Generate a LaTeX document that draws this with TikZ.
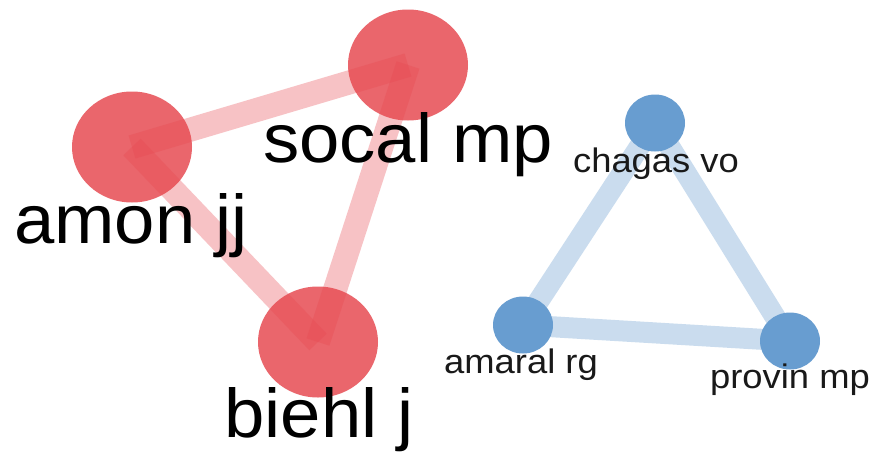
\documentclass[tikz,border=0pt]{standalone}
\usepackage{fontspec}
\setmainfont{Liberation Sans}
\usetikzlibrary{shapes.geometric}
\definecolor{rednode}{RGB}{234,102,108}
\definecolor{rededge}{RGB}{232,72,80}
\definecolor{bluenode}{RGB}{104,157,208}
\definecolor{blueedge}{RGB}{104,157,208}
\tikzset{
  bignode/.style={ellipse,fill=rednode,draw=none,minimum width=120pt,minimum height=111pt,inner sep=0pt},
  smallnode/.style={ellipse,fill=bluenode,draw=none,minimum width=60pt,minimum height=57pt,inner sep=0pt},
  redlink/.style={draw=rededge,line width=24pt,draw opacity=0.33,line cap=butt},
  bluelink/.style={draw=blueedge,line width=21pt,draw opacity=0.35,line cap=butt},
  biglabel/.style={anchor=base,inner sep=0pt,font=\fontsize{69}{80}\selectfont,text=black},
  smalllabel/.style={anchor=base,inner sep=0pt,font=\fontsize{34}{40}\selectfont,text=black!90},
}
\begin{document}
\begin{tikzpicture}[x=1pt,y=-1pt]
\useasboundingbox (0,0) rectangle (873,453);
\fill[white] (0,0) rectangle (873,453);
% nodes
\node[bignode] (amon) at (132,147) {};
\node[bignode] (socal) at (408,65) {};
\node[bignode] (biehl) at (318,342) {};
\node[smallnode] (chagas) at (655,123) {};
\node[smallnode] (amaral) at (523,325) {};
\node[smallnode] (provin) at (790,341) {};
% links
\draw[redlink] (amon.center) -- (socal.center);
\draw[redlink] (amon.center) -- (biehl.center);
\draw[redlink] (socal.center) -- (biehl.center);
\draw[bluelink] (chagas.center) -- (amaral.center);
\draw[bluelink] (chagas.center) -- (provin.center);
\draw[bluelink] (amaral.center) -- (provin.center);
% labels
\node[biglabel] (lamon) at (131,243) {\scalebox{1.05}[1]{amon jj}};
\node[biglabel] (lsocal) at (408,162) {\scalebox{1.05}[1]{socal mp}};
\node[biglabel] (lbiehl) at (319,437) {\scalebox{1.05}[1]{biehl j}};
\node[smalllabel] (lchagas) at (656,172) {\scalebox{1.07}[1]{chagas vo}};
\node[smalllabel] (lamaral) at (521,373) {\scalebox{1.07}[1]{amaral rg}};
\node[smalllabel] (lprovin) at (790,388) {\scalebox{1.07}[1]{provin mp}};
\end{tikzpicture}
\end{document}
